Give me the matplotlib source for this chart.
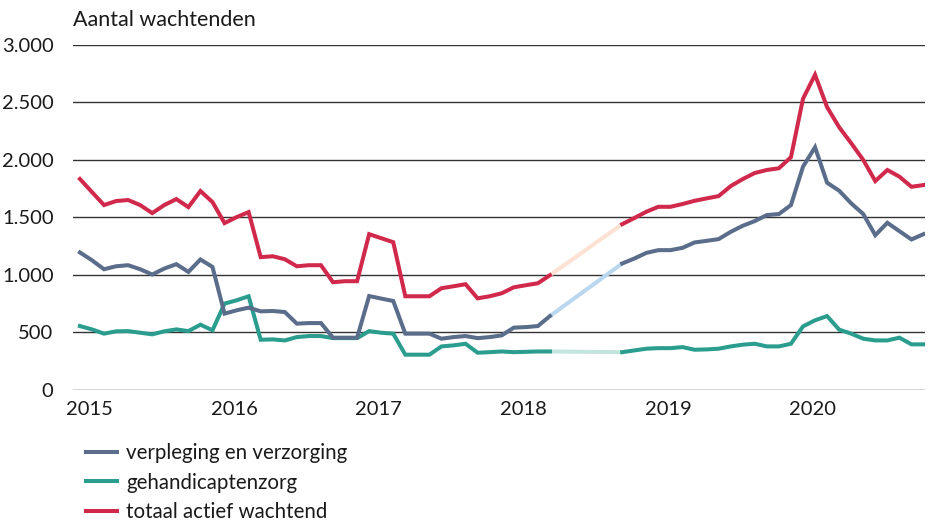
import matplotlib
matplotlib.use("Agg")
import matplotlib.pyplot as plt
from matplotlib.ticker import FuncFormatter
import numpy as np

plt.rcParams['font.family'] = ['Lato', 'DejaVu Sans']

# maandelijkse standen, jan 2015 t/m nov 2020; mei-sep 2018 ontbreken
nan = np.nan
verpleging = [1196, 1128, 1050, 1076, 1085, 1050, 1004, 1056, 1094, 1027, 1135, 1070,
              664, 693, 716, 684, 687, 678, 577, 582, 582, 455, 455, 455,
              817, 795, 774, 490, 490, 490, 446, 460, 469, 451, 460, 475,
              542, 547, 556, 643, nan, nan, nan, nan, nan, 1100, 1143, 1192,
              1216, 1216, 1236, 1283, 1297, 1312, 1375, 1428, 1469, 1521, 1530, 1608,
              1942, 2111, 1802, 1733, 1623, 1530, 1346, 1454, 1381, 1309, 1355]
gehandicapten = [556, 527, 490, 510, 512, 498, 484, 510, 527, 512, 568, 519,
                 751, 780, 815, 437, 440, 431, 460, 469, 469, 451, 451, 451,
                 512, 498, 490, 307, 307, 307, 379, 388, 402, 324, 329, 335,
                 329, 332, 335, 335, nan, nan, nan, nan, nan, 329, 344, 359,
                 364, 364, 373, 350, 353, 359, 379, 394, 402, 379, 379, 402,
                 553, 606, 643, 525, 490, 446, 431, 431, 455, 397, 397]
totaal = [1835, 1721, 1608, 1643, 1652, 1608, 1538, 1608, 1660, 1590, 1730, 1634,
          1451, 1503, 1547, 1155, 1163, 1137, 1076, 1085, 1085, 937, 946, 946,
          1355, 1320, 1285, 815, 815, 815, 885, 902, 920, 797, 815, 841,
          893, 911, 928, 998, nan, nan, nan, nan, nan, 1442, 1495, 1550,
          1593, 1593, 1617, 1645, 1666, 1686, 1773, 1834, 1887, 1913, 1928, 2024,
          2532, 2741, 2459, 2285, 2146, 2000, 1817, 1913, 1855, 1767, 1782]
jaren = ['2015', '2016', '2017', '2018', '2019', '2020']
gat = (39, 45)  # laatste meting voor en eerste na de onderbreking

series = [
    ('gehandicaptenzorg', gehandicapten, '#2a9d8f', '#c2e5de'),
    ('verpleging en verzorging', verpleging, '#5a6d8b', '#b9d7ef'),
    ('totaal actief wachtend', totaal, '#d1294b', '#fde1d3'),
]

fig = plt.figure(figsize=(9.35, 5.23), dpi=100)
ax = fig.add_axes([0.078, 0.2543, 0.911, 0.6597])

x = np.arange(len(totaal))
handles = {}
for naam, y, kleur, licht in series:
    y = np.array(y, dtype=float)
    a, b = gat
    ax.plot([a, b], [y[a], y[b]], color=licht, lw=2.9, solid_capstyle='butt', zorder=2)
    h, = ax.plot(x, y, color=kleur, lw=2.9, solid_joinstyle='miter', zorder=3)
    handles[naam] = h

ax.set_ylim(0, 3000)
ax.set_xlim(-0.58, 70.1)
ax.set_yticks(np.arange(0, 3001, 500))
ax.yaxis.set_major_formatter(FuncFormatter(lambda v, p: f'{int(v):,}'.replace(',', '.')))
ax.set_xticks([12 * k + 0.8 for k in range(len(jaren))])
ax.set_xticklabels(jaren)
ax.grid(axis='y', color='#333333', lw=1.0, zorder=1)
for s in ax.spines.values():
    s.set_visible(False)
ax.tick_params(axis='both', length=0, labelsize=14.5, colors='#1a1a1a')
ax.tick_params(axis='y', pad=14)
ax.tick_params(axis='x', pad=8)

fig.text(0.078, 0.962, 'Aantal wachtenden', fontsize=15.5, color='#1a1a1a', va='center')

volgorde = ['verpleging en verzorging', 'gehandicaptenzorg', 'totaal actief wachtend']
leg = fig.legend([handles[n] for n in volgorde], volgorde, loc='upper left',
                 bbox_to_anchor=(0.092, 0.153), frameon=False, fontsize=14.8,
                 handlelength=1.5, handletextpad=0.45, labelspacing=0.47,
                 borderaxespad=0, borderpad=0)
for t in leg.get_texts():
    t.set_color('#1a1a1a')

fig.savefig('out.png', dpi=100)
